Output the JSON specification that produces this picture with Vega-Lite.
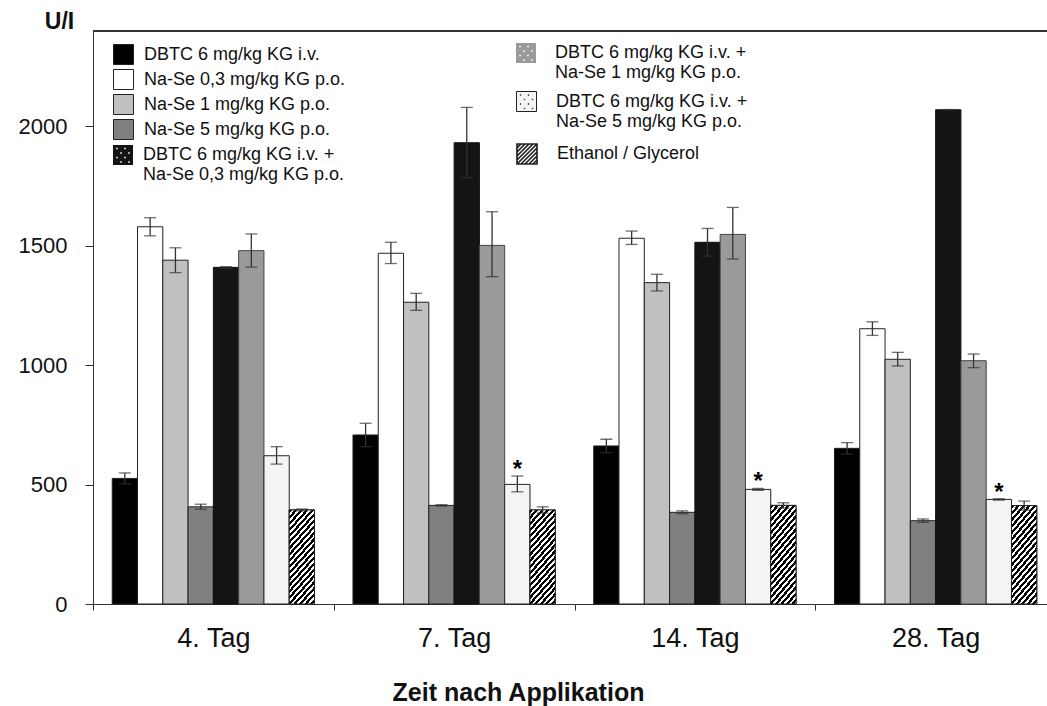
{
  "$schema": "https://vega.github.io/schema/vega-lite/v6.json",
  "width": 954,
  "height": 573,
  "autosize": {"type": "none"},
  "padding": {"left": 93, "top": 31, "right": 0, "bottom": 102},
  "background": "white",
  "config": {
    "font": "Liberation Sans",
    "view": {"stroke": null},
    "axis": {"domainColor": "#333", "tickColor": "#333", "labelColor": "#111", "titleColor": "#111", "labelFont": "Liberation Sans", "titleFont": "Liberation Sans", "grid": false},
    "legend": {
      "labelFont": "Liberation Sans", "labelColor": "#111", "labelFontSize": 18, "labelLimit": 0, "padding": 0,
      "orient": "none", "direction": "vertical", "symbolSize": 400, "symbolStrokeColor": "#222", "symbolStrokeWidth": 1,
      "symbolType": "square", "rowPadding": 0
    }
  },
  "resolve": {"scale": {"fill": "independent"}, "legend": {"fill": "independent"}},
  "data": {
    "values": [
      {"day": "4. Tag", "s": "DBTC 6 mg/kg KG i.v.", "v": 526, "lo": 503, "hi": 549, "sig": ""},
      {"day": "4. Tag", "s": "Na-Se 0,3 mg/kg KG p.o.", "v": 1580, "lo": 1542, "hi": 1618, "sig": ""},
      {"day": "4. Tag", "s": "Na-Se 1 mg/kg KG p.o.", "v": 1440, "lo": 1388, "hi": 1492, "sig": ""},
      {"day": "4. Tag", "s": "Na-Se 5 mg/kg KG p.o.", "v": 407, "lo": 397, "hi": 418, "sig": ""},
      {"day": "4. Tag", "s": "DBTC 6 mg/kg KG i.v. +|Na-Se 0,3 mg/kg KG p.o.", "v": 1410, "lo": 1406, "hi": 1413, "sig": ""},
      {"day": "4. Tag", "s": "DBTC 6 mg/kg KG i.v. +|Na-Se 1 mg/kg KG p.o.", "v": 1480, "lo": 1411, "hi": 1550, "sig": ""},
      {"day": "4. Tag", "s": "DBTC 6 mg/kg KG i.v. +|Na-Se 5 mg/kg KG p.o.", "v": 621, "lo": 586, "hi": 659, "sig": ""},
      {"day": "4. Tag", "s": "Ethanol / Glycerol", "v": 394, "lo": 390, "hi": 398, "sig": ""},
      {"day": "7. Tag", "s": "DBTC 6 mg/kg KG i.v.", "v": 708, "lo": 659, "hi": 757, "sig": ""},
      {"day": "7. Tag", "s": "Na-Se 0,3 mg/kg KG p.o.", "v": 1469, "lo": 1426, "hi": 1515, "sig": ""},
      {"day": "7. Tag", "s": "Na-Se 1 mg/kg KG p.o.", "v": 1264, "lo": 1230, "hi": 1301, "sig": ""},
      {"day": "7. Tag", "s": "Na-Se 5 mg/kg KG p.o.", "v": 413, "lo": 410, "hi": 416, "sig": ""},
      {"day": "7. Tag", "s": "DBTC 6 mg/kg KG i.v. +|Na-Se 0,3 mg/kg KG p.o.", "v": 1932, "lo": 1785, "hi": 2080, "sig": ""},
      {"day": "7. Tag", "s": "DBTC 6 mg/kg KG i.v. +|Na-Se 1 mg/kg KG p.o.", "v": 1502, "lo": 1371, "hi": 1643, "sig": ""},
      {"day": "7. Tag", "s": "DBTC 6 mg/kg KG i.v. +|Na-Se 5 mg/kg KG p.o.", "v": 501, "lo": 470, "hi": 536, "sig": "*"},
      {"day": "7. Tag", "s": "Ethanol / Glycerol", "v": 394, "lo": 381, "hi": 407, "sig": ""},
      {"day": "14. Tag", "s": "DBTC 6 mg/kg KG i.v.", "v": 662, "lo": 634, "hi": 690, "sig": ""},
      {"day": "14. Tag", "s": "Na-Se 0,3 mg/kg KG p.o.", "v": 1532, "lo": 1506, "hi": 1562, "sig": ""},
      {"day": "14. Tag", "s": "Na-Se 1 mg/kg KG p.o.", "v": 1346, "lo": 1311, "hi": 1381, "sig": ""},
      {"day": "14. Tag", "s": "Na-Se 5 mg/kg KG p.o.", "v": 384, "lo": 378, "hi": 390, "sig": ""},
      {"day": "14. Tag", "s": "DBTC 6 mg/kg KG i.v. +|Na-Se 0,3 mg/kg KG p.o.", "v": 1515, "lo": 1457, "hi": 1573, "sig": ""},
      {"day": "14. Tag", "s": "DBTC 6 mg/kg KG i.v. +|Na-Se 1 mg/kg KG p.o.", "v": 1548, "lo": 1445, "hi": 1661, "sig": ""},
      {"day": "14. Tag", "s": "DBTC 6 mg/kg KG i.v. +|Na-Se 5 mg/kg KG p.o.", "v": 480, "lo": 476, "hi": 484, "sig": "*"},
      {"day": "14. Tag", "s": "Ethanol / Glycerol", "v": 413, "lo": 402, "hi": 424, "sig": ""},
      {"day": "28. Tag", "s": "DBTC 6 mg/kg KG i.v.", "v": 652, "lo": 628, "hi": 676, "sig": ""},
      {"day": "28. Tag", "s": "Na-Se 0,3 mg/kg KG p.o.", "v": 1153, "lo": 1125, "hi": 1182, "sig": ""},
      {"day": "28. Tag", "s": "Na-Se 1 mg/kg KG p.o.", "v": 1025, "lo": 997, "hi": 1054, "sig": ""},
      {"day": "28. Tag", "s": "Na-Se 5 mg/kg KG p.o.", "v": 349, "lo": 342, "hi": 356, "sig": ""},
      {"day": "28. Tag", "s": "DBTC 6 mg/kg KG i.v. +|Na-Se 0,3 mg/kg KG p.o.", "v": 2070, "lo": 2069, "hi": 2071, "sig": ""},
      {"day": "28. Tag", "s": "DBTC 6 mg/kg KG i.v. +|Na-Se 1 mg/kg KG p.o.", "v": 1019, "lo": 990, "hi": 1047, "sig": ""},
      {"day": "28. Tag", "s": "DBTC 6 mg/kg KG i.v. +|Na-Se 5 mg/kg KG p.o.", "v": 438, "lo": 435, "hi": 441, "sig": "*"},
      {"day": "28. Tag", "s": "Ethanol / Glycerol", "v": 412, "lo": 393, "hi": 431, "sig": ""}
    ]
  },
  "encoding": {
    "x": {
      "field": "day", "type": "nominal", "sort": ["4. Tag", "7. Tag", "14. Tag", "28. Tag"],
      "scale": {"range": [0, 963], "paddingInner": 0, "paddingOuter": 0},
      "axis": {
        "labelAngle": 0, "labelFontSize": 27, "labelPadding": 15, "tickSize": 6, "tickBand": "extent",
        "title": "Zeit nach Applikation", "titleFontSize": 25, "titleFontWeight": "bold",
        "titleX": 425, "titleY": 96, "titleBaseline": "alphabetic", "titleAlign": "center"
      }
    },
    "xOffset": {
      "field": "s", "type": "nominal",
      "scale": {
        "domain": ["DBTC 6 mg/kg KG i.v.", "Na-Se 0,3 mg/kg KG p.o.", "Na-Se 1 mg/kg KG p.o.", "Na-Se 5 mg/kg KG p.o.", "DBTC 6 mg/kg KG i.v. +|Na-Se 0,3 mg/kg KG p.o.", "DBTC 6 mg/kg KG i.v. +|Na-Se 1 mg/kg KG p.o.", "DBTC 6 mg/kg KG i.v. +|Na-Se 5 mg/kg KG p.o.", "Ethanol / Glycerol"],
        "paddingInner": 0, "paddingOuter": 0.76
      }
    }
  },
  "layer": [
    {
      "transform": [{"filter": {"field": "s", "oneOf": ["DBTC 6 mg/kg KG i.v.", "Na-Se 0,3 mg/kg KG p.o.", "Na-Se 1 mg/kg KG p.o.", "Na-Se 5 mg/kg KG p.o."]}}],
      "mark": {"type": "bar", "stroke": "#222", "strokeWidth": 1},
      "encoding": {
        "y": {
          "field": "v", "type": "quantitative",
          "scale": {"domain": [0, 2400], "nice": false, "zero": true},
          "axis": {
            "values": [0, 500, 1000, 1500, 2000], "format": "d", "labelFontSize": 22, "labelPadding": 18, "tickSize": 8,
            "title": "U/I", "titleAngle": 0, "titleX": -34, "titleY": -3, "titleAlign": "center",
            "titleBaseline": "alphabetic", "titleFontSize": 23, "titleFontWeight": "bold"
          }
        },
        "fill": {
          "field": "s", "type": "nominal",
          "scale": {
            "domain": ["DBTC 6 mg/kg KG i.v.", "Na-Se 0,3 mg/kg KG p.o.", "Na-Se 1 mg/kg KG p.o.", "Na-Se 5 mg/kg KG p.o."],
            "range": ["#000000", "#ffffff", "#c0c0c0", "#808080"]
          },
          "legend": {"title": null, "legendX": 20, "legendY": 13, "labelOffset": 10, "rowPadding": 0}
        }
      }
    },
    {
      "transform": [{"filter": {"field": "s", "equal": "DBTC 6 mg/kg KG i.v. +|Na-Se 0,3 mg/kg KG p.o."}}],
      "mark": {"type": "bar", "stroke": "#111", "strokeWidth": 1},
      "encoding": {
        "y": {"field": "v", "type": "quantitative"},
        "fill": {
          "field": "s", "type": "nominal",
          "scale": {"domain": ["DBTC 6 mg/kg KG i.v. +|Na-Se 0,3 mg/kg KG p.o."], "range": ["#141414"]},
          "legend": {
            "title": null, "legendX": 20, "legendY": 114, "labelOffset": 10, "symbolStrokeWidth": 0,
            "labelExpr": "split(datum.label, '|')",
            "symbolType": "M-1,-1H1V1H-1Z M-0.68,-0.73V-0.57H-0.52V-0.73Z M0.12,-0.73V-0.57H0.28V-0.73Z M-0.28,-0.28V-0.12H-0.12V-0.28Z M0.52,-0.28V-0.12H0.68V-0.28Z M-0.68,0.17V0.33H-0.52V0.17Z M0.12,0.17V0.33H0.28V0.17Z M-0.28,0.62V0.78H-0.12V0.62Z M0.52,0.62V0.78H0.68V0.62Z"
          }
        }
      }
    },
    {
      "transform": [{"filter": {"field": "s", "equal": "DBTC 6 mg/kg KG i.v. +|Na-Se 1 mg/kg KG p.o."}}],
      "mark": {"type": "bar", "stroke": "#444", "strokeWidth": 1},
      "encoding": {
        "y": {"field": "v", "type": "quantitative"},
        "fill": {
          "field": "s", "type": "nominal",
          "scale": {"domain": ["DBTC 6 mg/kg KG i.v. +|Na-Se 1 mg/kg KG p.o."], "range": ["#9a9a9a"]},
          "legend": {
            "title": null, "legendX": 423, "legendY": 12, "labelOffset": 19, "symbolStrokeWidth": 0,
            "labelExpr": "split(datum.label, '|')",
            "symbolType": "M-1,-1H1V1H-1Z M-0.68,-0.73V-0.57H-0.52V-0.73Z M0.12,-0.73V-0.57H0.28V-0.73Z M-0.28,-0.28V-0.12H-0.12V-0.28Z M0.52,-0.28V-0.12H0.68V-0.28Z M-0.68,0.17V0.33H-0.52V0.17Z M0.12,0.17V0.33H0.28V0.17Z M-0.28,0.62V0.78H-0.12V0.62Z M0.52,0.62V0.78H0.68V0.62Z"
          }
        }
      }
    },
    {
      "transform": [{"filter": {"field": "s", "equal": "DBTC 6 mg/kg KG i.v. +|Na-Se 5 mg/kg KG p.o."}}],
      "mark": {"type": "bar", "stroke": "#222", "strokeWidth": 1},
      "encoding": {
        "y": {"field": "v", "type": "quantitative"},
        "fill": {
          "field": "s", "type": "nominal",
          "scale": {"domain": ["DBTC 6 mg/kg KG i.v. +|Na-Se 5 mg/kg KG p.o."], "range": ["#f4f4f4"]},
          "legend": {
            "title": null, "legendX": 423, "legendY": 60, "labelOffset": 19,
            "labelExpr": "split(datum.label, '|')",
            "symbolType": "M-1,-1H1V1H-1Z M-0.63,-0.68V-0.62H-0.57V-0.68Z M0.17,-0.68V-0.62H0.23V-0.68Z M-0.23,-0.23V-0.17H-0.17V-0.23Z M0.57,-0.23V-0.17H0.63V-0.23Z M-0.63,0.22V0.28H-0.57V0.22Z M0.17,0.22V0.28H0.23V0.22Z M-0.23,0.67V0.73H-0.17V0.67Z M0.57,0.67V0.73H0.63V0.67Z"
          }
        }
      }
    },
    {
      "transform": [{"filter": {"field": "s", "equal": "Ethanol / Glycerol"}}],
      "mark": {"type": "bar", "stroke": "#222", "strokeWidth": 1},
      "encoding": {
        "y": {"field": "v", "type": "quantitative"},
        "fill": {
          "field": "s", "type": "nominal",
          "scale": {"domain": ["Ethanol / Glycerol"], "range": ["#ffffff"]},
          "legend": {
            "title": null, "legendX": 423, "legendY": 112, "labelOffset": 19, "symbolStrokeWidth": 1.7,
            "symbolType": "M-1,-1H1V1H-1Z M-1,-0.6L-0.6,-1 M-1,-0.2L-0.2,-1 M-1,0.2L0.2,-1 M-1,0.6L0.6,-1 M-1,1L1,-1 M-0.6,1L1,-0.6 M-0.2,1L1,-0.2 M0.2,1L1,0.2 M0.6,1L1,0.6"
          }
        }
      }
    },
    {
      "transform": [{"filter": {"field": "s", "equal": "Ethanol / Glycerol"}}],
      "mark": {
        "type": "bar", "stroke": "#222", "strokeWidth": 1,
        "fill": {
          "gradient": "linear", "x1": 0, "y1": 0, "x2": 0.36, "y2": 1.2,
          "stops": [
            {"offset": 0, "color": "#000"}, {"offset": 0.027, "color": "#000"}, {"offset": 0.027, "color": "#fff"}, {"offset": 0.05, "color": "#fff"},
            {"offset": 0.05, "color": "#000"}, {"offset": 0.077, "color": "#000"}, {"offset": 0.077, "color": "#fff"}, {"offset": 0.1, "color": "#fff"},
            {"offset": 0.1, "color": "#000"}, {"offset": 0.127, "color": "#000"}, {"offset": 0.127, "color": "#fff"}, {"offset": 0.15, "color": "#fff"},
            {"offset": 0.15, "color": "#000"}, {"offset": 0.177, "color": "#000"}, {"offset": 0.177, "color": "#fff"}, {"offset": 0.2, "color": "#fff"},
            {"offset": 0.2, "color": "#000"}, {"offset": 0.227, "color": "#000"}, {"offset": 0.227, "color": "#fff"}, {"offset": 0.25, "color": "#fff"},
            {"offset": 0.25, "color": "#000"}, {"offset": 0.277, "color": "#000"}, {"offset": 0.277, "color": "#fff"}, {"offset": 0.3, "color": "#fff"},
            {"offset": 0.3, "color": "#000"}, {"offset": 0.327, "color": "#000"}, {"offset": 0.327, "color": "#fff"}, {"offset": 0.35, "color": "#fff"},
            {"offset": 0.35, "color": "#000"}, {"offset": 0.377, "color": "#000"}, {"offset": 0.377, "color": "#fff"}, {"offset": 0.4, "color": "#fff"},
            {"offset": 0.4, "color": "#000"}, {"offset": 0.427, "color": "#000"}, {"offset": 0.427, "color": "#fff"}, {"offset": 0.45, "color": "#fff"},
            {"offset": 0.45, "color": "#000"}, {"offset": 0.477, "color": "#000"}, {"offset": 0.477, "color": "#fff"}, {"offset": 0.5, "color": "#fff"},
            {"offset": 0.5, "color": "#000"}, {"offset": 0.527, "color": "#000"}, {"offset": 0.527, "color": "#fff"}, {"offset": 0.55, "color": "#fff"},
            {"offset": 0.55, "color": "#000"}, {"offset": 0.577, "color": "#000"}, {"offset": 0.577, "color": "#fff"}, {"offset": 0.6, "color": "#fff"},
            {"offset": 0.6, "color": "#000"}, {"offset": 0.627, "color": "#000"}, {"offset": 0.627, "color": "#fff"}, {"offset": 0.65, "color": "#fff"},
            {"offset": 0.65, "color": "#000"}, {"offset": 0.677, "color": "#000"}, {"offset": 0.677, "color": "#fff"}, {"offset": 0.7, "color": "#fff"},
            {"offset": 0.7, "color": "#000"}, {"offset": 0.727, "color": "#000"}, {"offset": 0.727, "color": "#fff"}, {"offset": 0.75, "color": "#fff"},
            {"offset": 0.75, "color": "#000"}, {"offset": 0.777, "color": "#000"}, {"offset": 0.777, "color": "#fff"}, {"offset": 0.8, "color": "#fff"},
            {"offset": 0.8, "color": "#000"}, {"offset": 0.827, "color": "#000"}, {"offset": 0.827, "color": "#fff"}, {"offset": 0.85, "color": "#fff"},
            {"offset": 0.85, "color": "#000"}, {"offset": 0.877, "color": "#000"}, {"offset": 0.877, "color": "#fff"}, {"offset": 0.9, "color": "#fff"},
            {"offset": 0.9, "color": "#000"}, {"offset": 0.927, "color": "#000"}, {"offset": 0.927, "color": "#fff"}, {"offset": 0.95, "color": "#fff"},
            {"offset": 0.95, "color": "#000"}, {"offset": 0.977, "color": "#000"}, {"offset": 0.977, "color": "#fff"}, {"offset": 1, "color": "#fff"}
          ]
        }
      },
      "encoding": {"y": {"field": "v", "type": "quantitative"}}
    },
    {
      "mark": {"type": "rule", "color": "#333", "strokeWidth": 1.3},
      "encoding": {"y": {"field": "lo", "type": "quantitative"}, "y2": {"field": "hi"}}
    },
    {
      "mark": {"type": "tick", "orient": "horizontal", "size": 12, "thickness": 1.3, "color": "#333"},
      "encoding": {"y": {"field": "lo", "type": "quantitative"}}
    },
    {
      "mark": {"type": "tick", "orient": "horizontal", "size": 12, "thickness": 1.3, "color": "#333"},
      "encoding": {"y": {"field": "hi", "type": "quantitative"}}
    },
    {
      "transform": [{"filter": "datum.sig == '*'"}],
      "mark": {"type": "text", "fontSize": 24, "fontWeight": "bold", "baseline": "alphabetic", "dy": 1, "color": "#000"},
      "encoding": {"y": {"field": "hi", "type": "quantitative"}, "text": {"field": "sig"}}
    },
    {
      "mark": {"type": "rule", "color": "#333", "strokeWidth": 1},
      "encoding": {"y": {"datum": 2400}, "x": null, "xOffset": null}
    }
  ]
}
